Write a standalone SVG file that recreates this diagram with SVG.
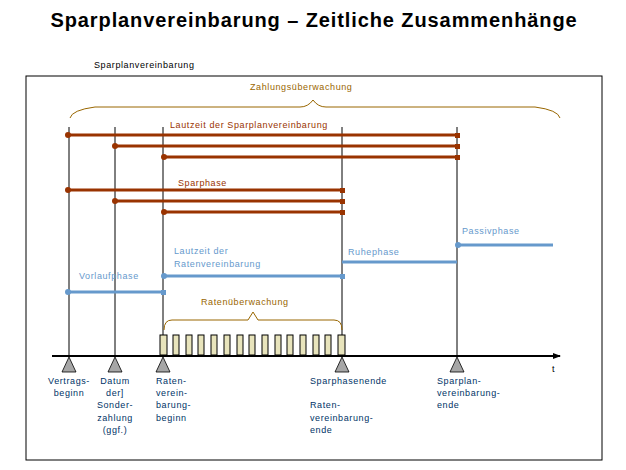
<svg xmlns="http://www.w3.org/2000/svg" width="626" height="470" viewBox="0 0 626 470">
<style>
text{font-family:"Liberation Sans",Arial,sans-serif;font-size:9px;letter-spacing:0.6px}
.b{stroke:#993300;stroke-width:3}
.bl{stroke:#6699cc;stroke-width:3}
.v{stroke:#000;stroke-width:1}
.bd{fill:#993300}.ld{fill:#6699cc}
.lb{fill:#003366}
.tri{fill:#a6a6a6;stroke:#000;stroke-width:0.8}
.box{fill:#e8e4bc;stroke:#000;stroke-width:1}
.br{fill:none;stroke:#996600;stroke-width:1}
</style>
<defs><marker id="ah" markerWidth="8" markerHeight="8" refX="7" refY="4" orient="auto" markerUnits="userSpaceOnUse"><path d="M0,1 L8,4 L0,7 Z" fill="#000"/></marker></defs>
<rect width="626" height="470" fill="#fff"/>
<text x="314" y="27" text-anchor="middle" style="font-size:20px;font-weight:bold;letter-spacing:0.9px">Sparplanvereinbarung – Zeitliche Zusammenhänge</text>
<text x="94" y="68">Sparplanvereinbarung</text>
<rect x="26" y="76" width="576" height="384" fill="none" stroke="#000"/>
<g id="connectors">
<line class="v" x1="69" y1="127" x2="69" y2="356"/>
<line class="v" x1="115" y1="127" x2="115" y2="356"/>
<line class="v" x1="163" y1="127" x2="163" y2="356"/>
<line class="v" x1="342" y1="127" x2="342" y2="356"/>
<line class="v" x1="457" y1="127" x2="457" y2="356"/>
<line x1="52" y1="356" x2="560" y2="356" stroke="#000" stroke-width="2" marker-end="url(#ah)"/>
<line class="b" x1="69" y1="135" x2="459" y2="135"/>
<line class="b" x1="115" y1="146" x2="459" y2="146"/>
<line class="b" x1="163" y1="157" x2="459" y2="157"/>
<line class="b" x1="69" y1="190" x2="343" y2="190"/>
<line class="b" x1="115" y1="201" x2="343" y2="201"/>
<line class="b" x1="163" y1="212" x2="343" y2="212"/>
<g class="bd"><circle cx="68" cy="135" r="3"/><circle cx="115" cy="146" r="3"/><circle cx="164" cy="157" r="3"/><circle cx="68" cy="190" r="3"/><circle cx="115" cy="201" r="3"/><circle cx="164" cy="212" r="3"/>
<rect x="455" y="133" width="5" height="5"/><rect x="455" y="144" width="5" height="5"/><rect x="455" y="155" width="5" height="5"/><rect x="340" y="188" width="5" height="5"/><rect x="340" y="199" width="5" height="5"/><rect x="340" y="210" width="5" height="5"/></g>
<line class="bl" x1="67" y1="292" x2="163" y2="292"/>
<line class="bl" x1="163" y1="276" x2="342" y2="276"/>
<line class="bl" x1="342" y1="262" x2="457" y2="262"/>
<line class="bl" x1="457" y1="245" x2="553" y2="245"/>
<g class="ld"><circle cx="68" cy="292" r="3"/><rect x="161" y="290" width="5" height="5"/><circle cx="164" cy="276" r="3"/><rect x="340" y="274" width="5" height="5"/><circle cx="458" cy="245" r="3"/></g>
<path class="br" d="M70,118 Q72,110 95,107 L300,107 Q308,107 313,100 Q318,107 326,107 L535,107 Q558,110 560,118"/>
<path class="br" d="M164,330 Q164,320 172,320 L248,320 L253,312 L258,320 L334,320 Q342,320 342,330"/>
</g>
<g id="boxes">
<rect class="box" x="160" y="335" width="7" height="20"/><rect class="box" x="173" y="335" width="6" height="20"/><rect class="box" x="186" y="335" width="6" height="20"/><rect class="box" x="198" y="335" width="6" height="20"/><rect class="box" x="211" y="335" width="6" height="20"/><rect class="box" x="224" y="335" width="6" height="20"/><rect class="box" x="237" y="335" width="6" height="20"/><rect class="box" x="249" y="335" width="6" height="20"/><rect class="box" x="262" y="335" width="6" height="20"/><rect class="box" x="275" y="335" width="6" height="20"/><rect class="box" x="287" y="335" width="6" height="20"/><rect class="box" x="300" y="335" width="6" height="20"/><rect class="box" x="313" y="335" width="6" height="20"/><rect class="box" x="325" y="335" width="6" height="20"/><rect class="box" x="338" y="335" width="7" height="20"/>
</g>
<g id="n1"><path class="tri" d="M69,357 L62,372 L76,372 Z"/><text class="lb" x="69" y="384" text-anchor="middle">Vertrags-</text><text class="lb" x="69" y="396" text-anchor="middle">beginn</text></g>
<g id="n2"><path class="tri" d="M115,357 L108,372 L122,372 Z"/><text class="lb" x="115" y="384" text-anchor="middle">Datum</text><text class="lb" x="115" y="396" text-anchor="middle">der]</text><text class="lb" x="115" y="408" text-anchor="middle">Sonder-</text><text class="lb" x="115" y="421" text-anchor="middle">zahlung</text><text class="lb" x="115" y="433" text-anchor="middle">(ggf.)</text></g>
<g id="n3"><path class="tri" d="M163,357 L156,372 L170,372 Z"/><text class="lb" x="156" y="384">Raten-</text><text class="lb" x="156" y="396">verein-</text><text class="lb" x="156" y="408">barung-</text><text class="lb" x="156" y="421">beginn</text></g>
<g id="n4"><path class="tri" d="M342,357 L335,372 L349,372 Z"/><text class="lb" x="310" y="384">Sparphasenende</text><text class="lb" x="310" y="408">Raten-</text><text class="lb" x="310" y="421">vereinbarung-</text><text class="lb" x="310" y="433">ende</text></g>
<g id="n5"><path class="tri" d="M457,357 L450,372 L464,372 Z"/><text class="lb" x="437" y="384">Sparplan-</text><text class="lb" x="437" y="396">vereinbarung-</text><text class="lb" x="437" y="408">ende</text></g>
<text x="552" y="372">t</text>
<g id="labels">
<text x="250" y="90" fill="#996600">Zahlungsüberwachung</text>
<text x="170" y="128" fill="#993300">Lautzeit der Sparplanvereinbarung</text>
<text x="178" y="186" fill="#993300">Sparphase</text>
<text x="462" y="234" fill="#6699cc">Passivphase</text>
<text x="174" y="254" fill="#6699cc">Lautzeit der</text>
<text x="174" y="267" fill="#6699cc">Ratenvereinbarung</text>
<text x="348" y="255" fill="#6699cc">Ruhephase</text>
<text x="79" y="279" fill="#6699cc">Vorlaufphase</text>
<text x="201" y="305" fill="#996600">Ratenüberwachung</text>
</g>
</svg>
